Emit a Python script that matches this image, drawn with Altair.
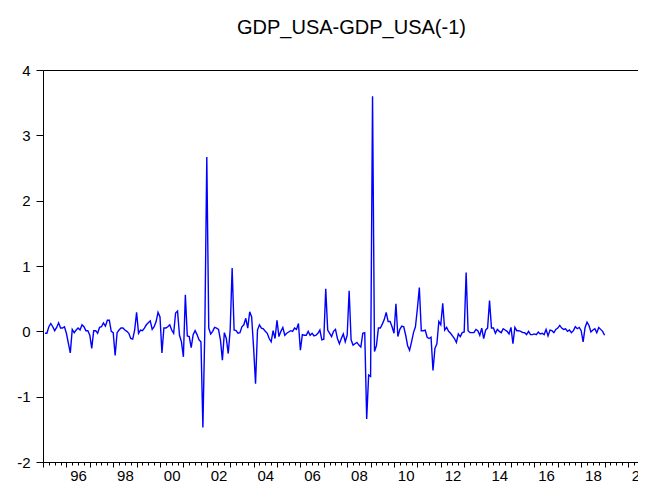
import altair as alt
import pandas as pd

chart_title = "GDP_USA-GDP_USA(-1)"
start_year = 1995
start_month = 2  # first monthly observation (Feb 1995)

diff_values = [
    -0.03, -0.03, 0.07, 0.12, 0.07, 0.01, 0.06, 0.13, 0.05, 0.05, 0.07, -0.03,
    -0.18, -0.33, 0.03, -0.02, 0.02, 0.05, 0.02, 0.10, 0.07, 0.01, 0.01, -0.06,
    -0.26, 0.01, 0.01, -0.03, 0.06, 0.07, 0.13, 0.08, 0.17, 0.17, 0.00, -0.02,
    -0.37, -0.02, 0.02, 0.05, 0.05, 0.02, 0.00, -0.03, -0.11, -0.12, 0.02, 0.29,
    -0.03, 0.02, 0.01, 0.05, 0.10, 0.13, 0.16, 0.03, 0.07, 0.15, 0.29, 0.22,
    -0.33, 0.05, 0.05, 0.07, 0.10, 0.02, -0.03, 0.28, 0.31, -0.06, -0.16, -0.39,
    0.56, -0.07, -0.08, -0.25, -0.05, 0.01, -0.05, -0.13, -0.16, -1.47, 0.05, 2.67,
    0.05, -0.04, 0.00, 0.06, 0.05, 0.03, -0.13, -0.44, -0.02, -0.11, -0.34, 0.03,
    0.97, 0.02, 0.01, -0.03, -0.02, 0.07, 0.10, 0.20, 0.05, 0.30, 0.22, -0.25,
    -0.80, 0.02, 0.10, 0.05, 0.04, 0.00, -0.03, -0.11, -0.16, 0.01, -0.11, 0.17,
    -0.08, 0.00, 0.06, -0.06, -0.03, -0.01, 0.01, 0.00, 0.05, 0.03, 0.12, -0.29,
    -0.05, -0.06, -0.06, 0.00, -0.06, -0.03, -0.07, -0.06, -0.03, 0.02, -0.13, -0.12,
    0.65, 0.02, -0.03, -0.08, 0.00, 0.03, -0.11, -0.19, -0.11, -0.04, -0.16, -0.06,
    0.62, -0.13, -0.21, -0.19, -0.17, -0.21, -0.24, -0.03, -0.02, -1.34, -0.67, -0.69,
    3.60, -0.31, -0.22, 0.05, 0.05, 0.11, 0.18, 0.29, 0.15, 0.15, 0.07, -0.03,
    0.42, -0.08, 0.03, 0.08, 0.07, -0.06, -0.22, -0.29, -0.16, -0.02, 0.07, 0.35,
    0.67, 0.01, 0.01, 0.02, -0.09, -0.11, -0.09, -0.60, -0.26, -0.19, 0.15, 0.10,
    0.43, 0.02, 0.06, 0.00, -0.03, -0.07, -0.11, -0.17, -0.04, -0.08, -0.02, -0.01,
    0.90, 0.01, -0.02, -0.02, -0.02, 0.03, 0.01, -0.06, 0.05, -0.11, 0.02, 0.05,
    0.47, 0.05, 0.05, -0.03, 0.03, 0.00, -0.02, 0.04, 0.02, 0.00, -0.04, 0.06,
    -0.19, 0.06, 0.01, 0.01, 0.00, -0.02, -0.02, -0.05, 0.00, -0.05, -0.05, -0.04,
    -0.05, -0.01, -0.04, -0.03, -0.05, 0.03, -0.07, 0.02, 0.01, -0.02, 0.03, 0.05,
    0.09, 0.05, 0.03, 0.04, 0.00, 0.02, -0.02, 0.01, 0.07, 0.04, 0.06, 0.01,
    -0.16, 0.06, 0.14, 0.09, -0.01, 0.02, 0.04, -0.02, 0.06, 0.03, 0.00, -0.06,
]

y_ticks = [-2, -1, 0, 1, 2, 3, 4]
x_domain = [1995, 2020.77]
quarter_ticks = [1995 + q / 4 for q in range(0, 104)]

df = pd.DataFrame({
    "date": [start_year + (start_month - 1 + i) / 12 for i in range(len(diff_values))],
    "value": diff_values,
})

font = "Liberation Sans"
x_scale = alt.Scale(domain=x_domain, nice=False, zero=False)
y_scale = alt.Scale(domain=[-2, 4], nice=False, zero=False)

y_axis = alt.Axis(
    orient="left",
    values=y_ticks,
    title=None,
    grid=False,
    ticks=True,
    domainColor="black",
    domainWidth=1,
    tickColor="black",
    tickSize=7,
    labelPadding=6,
    labelAlign="right",
    labelExpr="toString(datum.value)",
    labelFont=font,
    labelFontSize=15,
    labelColor="black",
    labelOverlap=False,
    labelFlush=False,
)

line = alt.Chart(df).mark_line(color="#0000FF", strokeWidth=1.4, clip=True).encode(
    x=alt.X(
        "date:Q",
        scale=x_scale,
        axis=alt.Axis(
            orient="bottom",
            values=quarter_ticks,
            title=None,
            grid=False,
            domainColor="black",
            domainWidth=1,
            tickColor="black",
            tickSize={"condition": {"test": "datum.value % 1 == 0", "value": 5}, "value": 3},
            labelExpr="datum.value % 2 == 0 ? slice(toString(datum.value), 2) : ''",
            labelOffset=11.7,
            labelFont=font,
            labelFontSize=15,
            labelColor="black",
            labelPadding=1,
            labelOverlap=False,
            labelFlush=False,
            labelBound=False,
        ),
    ),
    y=alt.Y("value:Q", scale=y_scale, axis=y_axis),
)

# top frame line drawn as a bare top axis (domain line only)
top_frame = alt.Chart(df).mark_line(opacity=0).encode(
    x=alt.X(
        "date:Q",
        scale=x_scale,
        axis=alt.Axis(orient="top", title=None, grid=False, labels=False, ticks=False,
                      domainColor="black", domainWidth=1),
    ),
    y=alt.Y("value:Q", scale=y_scale, axis=y_axis),
)

chart = alt.layer(line, top_frame).resolve_axis(x="independent").properties(
    width=603,
    height=392,
    autosize=alt.AutoSizeParams(type="none"),
    padding={"left": 35, "top": 62, "right": -8, "bottom": 20},
    title=alt.Title(
        chart_title,
        font=font,
        fontSize=20,
        fontWeight="normal",
        color="black",
        anchor="middle",
        baseline="alphabetic",
        offset=9.5,
        dx=7,
    ),
).configure_view(strokeWidth=0).configure(background="white")

chart.save("out.html", embed_options={"renderer": "svg", "actions": False})
